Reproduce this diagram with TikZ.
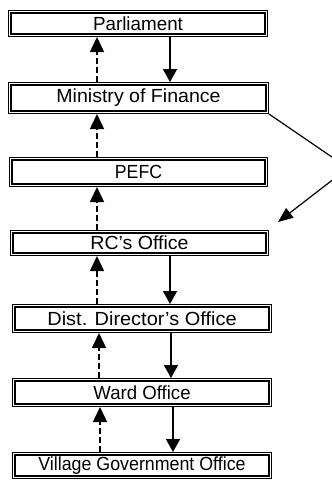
\documentclass[tikz,border=0pt]{standalone}
\usepackage{fontspec}
\usepackage{graphicx}
\setmainfont{Liberation Sans}
\usetikzlibrary{arrows.meta}
\newcommand\hscaled[2]{\scalebox{#1}[1]{#2}}
\begin{document}
\begin{tikzpicture}[x=1pt,y=-1pt,
  box/.style={draw=black, line width=1.2pt, double=white, double distance=1.2pt,
    inner sep=0pt, outer sep=1.8pt, font=\fontsize{19}{22}\selectfont, anchor=center},
  solidarrow/.style={line width=1.5pt, -{Triangle[width=14pt,length=13pt]}},
  dasharrow/.style={line width=1.5pt, dash pattern=on 6pt off 3pt, -{Triangle[width=14pt,length=15pt]}},
  diagarrow/.style={line width=1.2pt, -{Triangle[width=12pt,length=15pt]}},
]
\useasboundingbox (0,0) rectangle (332,483);
\clip (0,0) rectangle (332,483);
\fill[white] (0,0) rectangle (332,483);

\node[box, minimum width=256.4pt, minimum height=23.4pt] (par) at (138,23.5) {\hscaled{0.99}{Parliament}};
\node[box, minimum width=257.4pt, minimum height=28.4pt] (min) at (138.5,98) {\hscaled{1.03}{Ministry of Finance}};
\node[box, minimum width=255.4pt, minimum height=26.4pt] (pefc) at (138.5,172) {\hscaled{0.93}{PEFC}};
\node[box, minimum width=255.4pt, minimum height=22.4pt] (rc) at (139.5,243) {\hscaled{1.03}{RC's Office}};
\node[box, minimum width=256.4pt, minimum height=25.4pt] (dist) at (142,318.5) {\hscaled{1.05}{Dist. Director's Office}};
\node[box, minimum width=256.4pt, minimum height=25.4pt] (ward) at (142,392.5) {\hscaled{0.98}{Ward Office}};
\node[box, minimum width=256.4pt, minimum height=23.4pt] (vil) at (142,465.5) {\hscaled{0.937}{Village Government Office}};

\coordinate (d1) at (97,0);
\coordinate (d2) at (99,0);
\coordinate (d3) at (100,0);
\coordinate (s1) at (170,0);
\coordinate (s2) at (171,0);
\coordinate (s3) at (173,0);

% solid downward arrows
\draw[solidarrow] (par.south -| s1) -- (min.north -| s1);
\draw[solidarrow] (rc.south -| s1) -- (dist.north -| s1);
\draw[solidarrow] (dist.south -| s2) -- (ward.north -| s2);
\draw[solidarrow] (ward.south -| s3) -- (vil.north -| s3);

% dashed upward arrows
\draw[dasharrow] (min.north -| d1) -- (par.south -| d1);
\draw[dasharrow] (pefc.north -| d1) -- (min.south -| d1);
\draw[dasharrow] (rc.north -| d1) -- (pefc.south -| d1);
\draw[dasharrow] (dist.north -| d1) -- (rc.south -| d1);
\draw[dasharrow] (ward.north -| d2) -- (dist.south -| d2);
\draw[dasharrow] (vil.north -| d3) -- (ward.south -| d3);

% diagonal arrow
\coordinate (apex) at (348,168);
\coordinate (tip) at (278,222);
\draw[diagarrow] (min.south east) -- (apex) -- (tip);
\end{tikzpicture}
\end{document}
